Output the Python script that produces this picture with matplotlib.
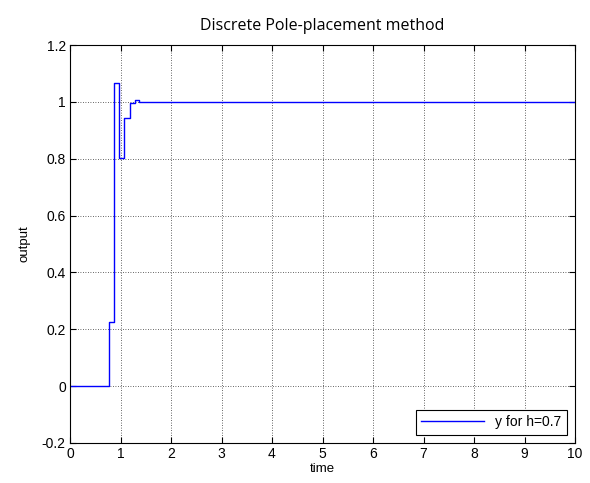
import matplotlib
matplotlib.use("Agg")
import matplotlib.pyplot as plt

# Step edges (time) and held output values of the discrete closed loop
t_edges = [0.0, 0.77, 0.88, 0.97, 1.07, 1.18, 1.28, 1.36, 1.67, 10.0]
y_levels = [0.0, 0.224, 1.067, 0.803, 0.944, 0.995, 1.008, 1.0, 0.998, 0.998]

xticks = [0, 1, 2, 3, 4, 5, 6, 7, 8, 9, 10]
yticks = [-0.2, 0, 0.2, 0.4, 0.6, 0.8, 1, 1.2]
ytick_labels = ["-0.2", "0", "0.2", "0.4", "0.6", "0.8", "1", "1.2"]

plt.rcParams['font.family'] = ['Liberation Sans', 'DejaVu Sans']

W, H = 590, 483
fig = plt.figure(figsize=(W / 100, H / 100), dpi=100)
ax = fig.add_axes([70 / W, 1 - 443 / H, (575 - 70) / W, (443 - 45) / H])

ax.step(t_edges, y_levels, where='post', color='#0000ff', lw=1.0, label='y for h=0.7')

ax.set_xlim(0, 10)
ax.set_ylim(-0.2, 1.2)
ax.set_xticks(xticks)
ax.set_xticklabels([str(v) for v in xticks])
ax.set_yticks(yticks)
ax.set_yticklabels(ytick_labels)
ax.tick_params(direction='in', length=4, labelsize=10, top=True, right=True)
ax.tick_params(axis='x', pad=3)
ax.tick_params(axis='y', pad=3)
ax.grid(True, color='#333333', linestyle=(0, (1, 2)), linewidth=0.6)
for s in ax.spines.values():
    s.set_linewidth(0.8)

ax.set_xlabel('time', fontsize=9.5, labelpad=1)
ax.set_ylabel('output', fontsize=9.5, labelpad=8)
ax.set_title('Discrete Pole-placement method', fontsize=11.5, family=['Open Sans', 'DejaVu Sans'], pad=11)

leg = ax.legend(loc='lower right', fontsize=10, fancybox=False, framealpha=1,
                edgecolor='black', borderaxespad=0.6, handlelength=4.5)
leg.get_frame().set_linewidth(0.8)

fig.savefig('out.png', dpi=100)
